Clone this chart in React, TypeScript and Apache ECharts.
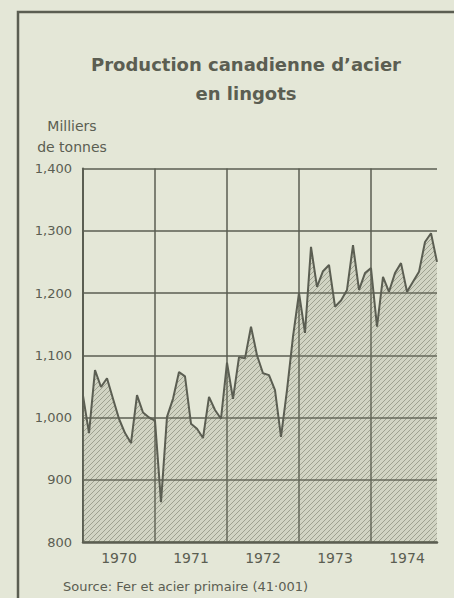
import React, { useEffect, useRef } from "react";
import * as echarts from "echarts";

const years = ["1970", "1971", "1972", "1973", "1974"];
const production = [
  1035, 975, 1076, 1049, 1063, 1030, 998, 975, 959, 1036, 1008, 1000,
  995, 864, 1001, 1030, 1073, 1066, 990, 982, 967, 1033, 1012, 998,
  1088, 1030, 1097, 1095, 1146, 1100, 1071, 1068, 1044, 969, 1044, 1130,
  1200, 1136, 1274, 1210, 1235, 1245, 1178, 1188, 1205, 1277, 1205, 1232,
  1240, 1146, 1226, 1202, 1232, 1248, 1202, 1218, 1234, 1282, 1296, 1250,
];
const yTicks = [800, 900, 1000, 1100, 1200, 1300, 1400];

const INK = "#5b5e52";
const BG = "#e4e7d7";
const FONT = "'DejaVu Sans', Verdana, sans-serif";

function makeHatch(): string {
  const s = 5;
  const c = document.createElement("canvas");
  c.width = s;
  c.height = s;
  const ctx = c.getContext("2d")!;
  ctx.fillStyle = "rgba(140,145,125,0.22)";
  ctx.fillRect(0, 0, s, s);
  ctx.strokeStyle = "rgba(85,90,75,0.42)";
  ctx.lineWidth = 1;
  ctx.beginPath();
  ctx.moveTo(0, s);
  ctx.lineTo(s, 0);
  ctx.moveTo(-1, 1);
  ctx.lineTo(1, -1);
  ctx.moveTo(s - 1, s + 1);
  ctx.lineTo(s + 1, s - 1);
  ctx.stroke();
  return c.toDataURL();
}

export default function App() {
  const ref = useRef<HTMLDivElement>(null);
  useEffect(() => {
    if (!ref.current) return;
    const chart = echarts.init(ref.current, null, { renderer: "svg" });
    const hatch = makeHatch();
    chart.setOption({
      animation: false,
      backgroundColor: BG,
      title: [
        {
          text: "Production canadienne d’acier\nen lingots",
          left: 241,
          top: 45,
          textAlign: "center",
          textStyle: { fontFamily: FONT, fontSize: 18, fontWeight: "bold", color: INK, lineHeight: 29 },
        },
        {
          text: "Milliers\nde tonnes",
          left: 67,
          top: 110,
          textAlign: "center",
          textStyle: { fontFamily: FONT, fontSize: 14, fontWeight: "normal", color: INK, lineHeight: 21 },
        },
        {
          text: "Source: Fer et acier primaire (41·001)",
          left: 58,
          top: 575,
          textStyle: { fontFamily: FONT, fontSize: 13, fontWeight: "normal", color: INK },
        },
      ],
      graphic: [
        {
          type: "rect",
          shape: { x: 18, y: 12, width: 470, height: 600 },
          style: { fill: "none", stroke: INK, lineWidth: 2.5 },
          silent: true,
        },
      ],
      grid: { left: 83, right: 17, top: 168.5, bottom: 56 },
      xAxis: {
        type: "value",
        min: 0,
        max: production.length - 1,
        interval: 12,
        axisLine: { show: true, lineStyle: { color: INK, width: 2.5 } },
        axisTick: { show: false },
        splitLine: {
          show: true,
          lineStyle: { color: [INK, INK, INK, INK, INK, "rgba(0,0,0,0)"], width: 1.5 },
        },
        axisLabel: {
          margin: 9,
          color: INK,
          fontFamily: FONT,
          fontSize: 14,
          formatter: (v: number) => {
            const i = Math.round(v / 12);
            return v % 12 === 0 && i < years.length ? "{y|" + years[i] + "}" : "";
          },
          rich: { y: { padding: [0, 0, 0, 72], fontSize: 14, fontFamily: FONT, color: INK } },
        },
      },
      yAxis: {
        type: "value",
        min: yTicks[0],
        max: yTicks[yTicks.length - 1],
        interval: 100,
        axisLine: { show: true, lineStyle: { color: INK, width: 2 } },
        axisTick: { show: false },
        splitLine: { show: true, lineStyle: { color: INK, width: 1.5 } },
        axisLabel: {
          margin: 11,
          color: INK,
          fontFamily: FONT,
          fontSize: 13,
          formatter: (v: number) => v.toLocaleString("en-US"),
        },
      },
      series: [
        {
          type: "line",
          data: production.map((v, i) => [i, v]),
          showSymbol: false,
          lineStyle: { color: INK, width: 2 },
          areaStyle: {
            color: { image: hatch, repeat: "repeat", imageWidth: 5, imageHeight: 5 } as any,
            opacity: 1,
            origin: "start",
          },
          z: 3,
        },
      ],
    });
    return () => chart.dispose();
  }, []);
  return (
    <div
      ref={ref}
      style={{ position: "fixed", left: 0, top: 0, width: 454, height: 598, background: BG }}
    />
  );
}
